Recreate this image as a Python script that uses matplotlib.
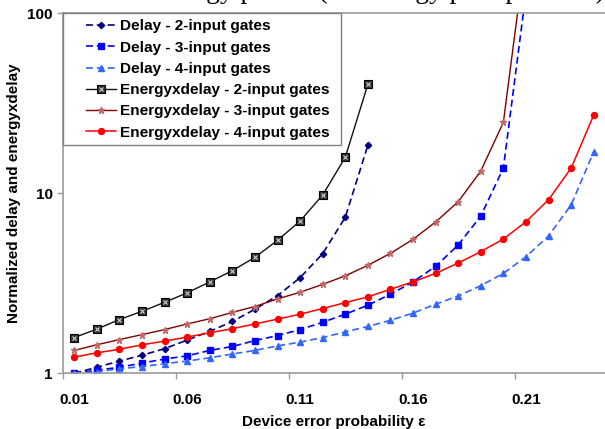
import matplotlib
matplotlib.use("Agg")
import matplotlib.pyplot as plt
from matplotlib.patches import Rectangle
from matplotlib.ticker import NullLocator

# device error probability, one category per 0.01
eps = [round(0.01 * (i + 1), 2) for i in range(24)]

delay_2 = [1.0, 1.08, 1.17, 1.26, 1.37, 1.53, 1.71, 1.94, 2.27, 2.70, 3.40, 4.62, 7.36, 18.5]
delay_3 = [1.0, 1.04, 1.08, 1.14, 1.20, 1.25, 1.34, 1.41, 1.52, 1.62, 1.75, 1.92, 2.13,
           2.39, 2.75, 3.22, 3.93, 5.16, 7.48, 13.8, 130.0]
delay_4 = [1.0, 1.02, 1.06, 1.09, 1.13, 1.17, 1.22, 1.28, 1.34, 1.42, 1.49, 1.58, 1.70,
           1.82, 1.97, 2.16, 2.42, 2.69, 3.07, 3.59, 4.44, 5.80, 8.61, 17.0]
exd_2 = [1.58, 1.76, 1.99, 2.21, 2.48, 2.80, 3.22, 3.72, 4.41, 5.48, 7.02, 9.79, 15.85, 40.3]
exd_3 = [1.34, 1.44, 1.54, 1.64, 1.75, 1.88, 2.01, 2.18, 2.35, 2.59, 2.82, 3.12, 3.48,
         3.98, 4.64, 5.55, 6.93, 8.98, 13.3, 24.8, 230.0]
exd_4 = [1.23, 1.30, 1.36, 1.44, 1.51, 1.59, 1.68, 1.77, 1.88, 2.00, 2.13, 2.29, 2.47,
         2.66, 2.93, 3.22, 3.59, 4.10, 4.74, 5.57, 6.95, 9.21, 13.8, 27.2]

labels = [
    "Delay - 2-input gates",
    "Delay - 3-input gates",
    "Delay - 4-input gates",
    "Energyxdelay - 2-input gates",
    "Energyxdelay - 3-input gates",
    "Energyxdelay - 4-input gates",
]
xtick_labels = ["0.01", "0.06", "0.11", "0.16", "0.21"]

FS = 11.0

plt.rcParams["font.family"] = ["Liberation Sans", "DejaVu Sans"]
plt.rcParams["lines.scale_dashes"] = False

fig = plt.figure(figsize=(6.05, 4.29), dpi=100)
ax = fig.add_axes([63 / 605, 1 - 373.3 / 429, 542 / 605, 360 / 429])

dash = (0, (5, 2.8))
h1, = ax.plot(eps[:len(delay_2)], delay_2, color="#000080", ls=dash, lw=1.2,
              marker="D", ms=3.2, mfc="#000080", mec="#000080")
h2, = ax.plot(eps[:len(delay_3)], delay_3, color="#0000ff", ls=dash, lw=1.2,
              marker="s", ms=4.6, mfc="#0000ff", mec="#0000ff")
h3, = ax.plot(eps[:len(delay_4)], delay_4, color="#3366ff", ls=dash, lw=1.2,
              marker="^", ms=5.0, mfc="#3366ff", mec="#3366ff")
h4a, = ax.plot(eps[:len(exd_2)], exd_2, color="#111111", lw=1.0,
               marker="s", ms=5.6, mfc="#333333", mec="#000000", mew=0.8)
h4b, = ax.plot(eps[:len(exd_2)], exd_2, ls="none",
               marker="x", ms=3.2, mec="#d0d0d0", mew=0.8)
h5, = ax.plot(eps[:len(exd_3)], exd_3, color="#800000", lw=1.0,
              marker="*", ms=5, mfc="#c06868", mec="#c06868")
h6, = ax.plot(eps[:len(exd_4)], exd_4, color="#ff0000", lw=1.1,
              marker="o", ms=4.3, mfc="#ff0000", mec="#ff0000")

ax.set_yscale("log")
ax.set_ylim(1, 100)
ax.set_xlim(0.005, 0.245)
ax.set_yticks([1, 10, 100])
ax.set_yticklabels(["1", "10", "100"])
ax.yaxis.set_minor_locator(NullLocator())

# tick marks sit on category boundaries, labels on category centres
ax.set_xticks([0.005, 0.055, 0.105, 0.155, 0.205])
ax.set_xticklabels([])
ax.set_xticks([0.01, 0.06, 0.11, 0.16, 0.21], minor=True)
ax.set_xticklabels(xtick_labels, minor=True)

axis_grey = "#9a9a9a"
for side in ["left", "bottom", "top"]:
    ax.spines[side].set_color(axis_grey)
    ax.spines[side].set_linewidth(1.2)
ax.spines["right"].set_visible(False)

ax.tick_params(axis="both", which="major", direction="out", length=4.5,
               width=1.0, color=axis_grey)
ax.tick_params(axis="x", which="minor", length=0, pad=14)
ax.tick_params(axis="y", which="major", pad=3)
for lab in ax.get_xticklabels(minor=True) + ax.get_yticklabels():
    lab.set_fontweight("bold")
    lab.set_fontsize(FS)

ax.set_xlabel("Device error probability ε", fontsize=FS, fontweight="bold")
ax.xaxis.set_label_coords(0.5, -0.134)
ax.xaxis.label.set_va("center")
ax.set_ylabel("Normalized delay and energyxdelay", fontsize=FS, fontweight="bold")
ax.yaxis.set_label_coords(-0.09, 0.5)
ax.yaxis.label.set_va("center")

# legend box drawn separately so its size can be set freely
ax.add_patch(Rectangle((0, 0.634), 0.513, 0.366, transform=ax.transAxes,
                       facecolor="white", edgecolor="#808080", lw=1.0,
                       zorder=4, clip_on=False))
leg = ax.legend([h1, h2, h3, (h4a, h4b), h5, h6], labels, loc="upper left",
                bbox_to_anchor=(0.031, 1.0), frameon=False, numpoints=1,
                prop={"weight": "bold", "size": 11.1}, handlelength=1.95,
                handletextpad=0.25, labelspacing=0.47, borderpad=0.4,
                borderaxespad=0)
leg.set_zorder(5)

# page heading, mostly cut off above the chart
fig.text(96 / 605, 1 + 1.5 / 429, "Total energy per bit (the energy per operation)",
         family="Liberation Serif", fontsize=19.8, va="baseline", ha="left")

fig.savefig("out.png", dpi=100)
